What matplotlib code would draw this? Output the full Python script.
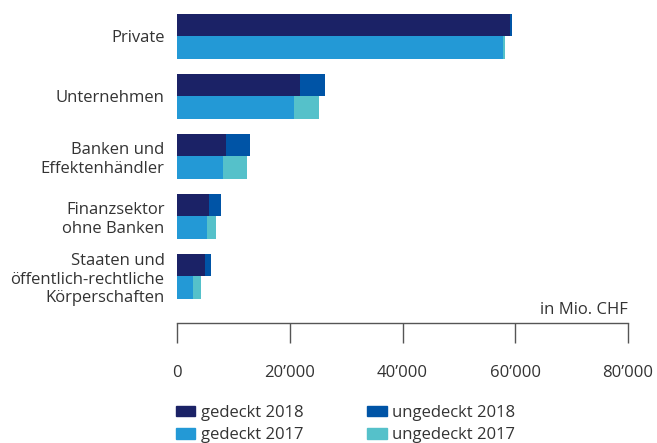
import matplotlib.pyplot as plt
from matplotlib.patches import Patch
from matplotlib.ticker import FuncFormatter

plt.rcParams['font.family'] = ['Open Sans', 'DejaVu Sans']

categories = ["Private", "Unternehmen", "Banken und\nEffektenhändler",
              "Finanzsektor\nohne Banken",
              "Staaten und\nöffentlich-rechtliche\nKörperschaften"]
gedeckt_2018 = [59000, 21900, 8700, 5700, 5000]
ungedeckt_2018 = [350, 4400, 4300, 2100, 1000]
gedeckt_2017 = [57900, 20800, 8200, 5300, 2800]
ungedeckt_2017 = [350, 4300, 4200, 1600, 1500]
xticks = [0, 20000, 40000, 60000, 80000]

c_g18 = "#1b2266"
c_u18 = "#0054a6"
c_g17 = "#2399d6"
c_u17 = "#55c1ca"
text_col = "#333333"

fig = plt.figure(figsize=(6.57, 4.43), dpi=100)
ax = fig.add_axes([177 / 657, 120 / 443, 451 / 657, 323 / 443])

h = 0.383
pos = list(range(len(categories)))
y18 = [p - h / 2 for p in pos]
y17 = [p + h / 2 for p in pos]

ax.barh(y18, gedeckt_2018, height=h, color=c_g18)
ax.barh(y18, ungedeckt_2018, left=gedeckt_2018, height=h, color=c_u18)
ax.barh(y17, gedeckt_2017, height=h, color=c_g17)
ax.barh(y17, ungedeckt_2017, left=gedeckt_2017, height=h, color=c_u17)

ax.set_xlim(0, 80000)
ax.set_ylim(4.775, -0.608)

for s in ["top", "right", "left"]:
    ax.spines[s].set_visible(False)
ax.spines["bottom"].set_color("#555555")
ax.spines["bottom"].set_linewidth(1)

ax.set_xticks(xticks)
ax.xaxis.set_major_formatter(FuncFormatter(lambda v, p: f"{int(v):,}".replace(",", "\u2019")))
ax.tick_params(axis="x", direction="out", length=14.5, width=1, color="#555555",
               pad=15.5, labelsize=12, labelcolor=text_col)

ax.set_yticks(pos)
ax.set_yticklabels(categories)
ax.tick_params(axis="y", length=0, pad=9, labelsize=12, labelcolor=text_col)

ax.text(80000, 4.69, "in Mio. CHF", ha="right", va="bottom", fontsize=12, color=text_col)

handles = [Patch(color=c_g18), Patch(color=c_g17), Patch(color=c_u18), Patch(color=c_u17)]
labels = ["gedeckt 2018", "gedeckt 2017", "ungedeckt 2018", "ungedeckt 2017"]
fig.legend(handles, labels, ncol=2, loc="upper left", bbox_to_anchor=(169 / 657, 1 - 398 / 443),
           frameon=False, fontsize=12, handlelength=1.15, handleheight=0.6,
           handletextpad=0.35, columnspacing=3.85, labelspacing=0.4,
           labelcolor=text_col, borderaxespad=0)

fig.savefig("out.png", dpi=100)
